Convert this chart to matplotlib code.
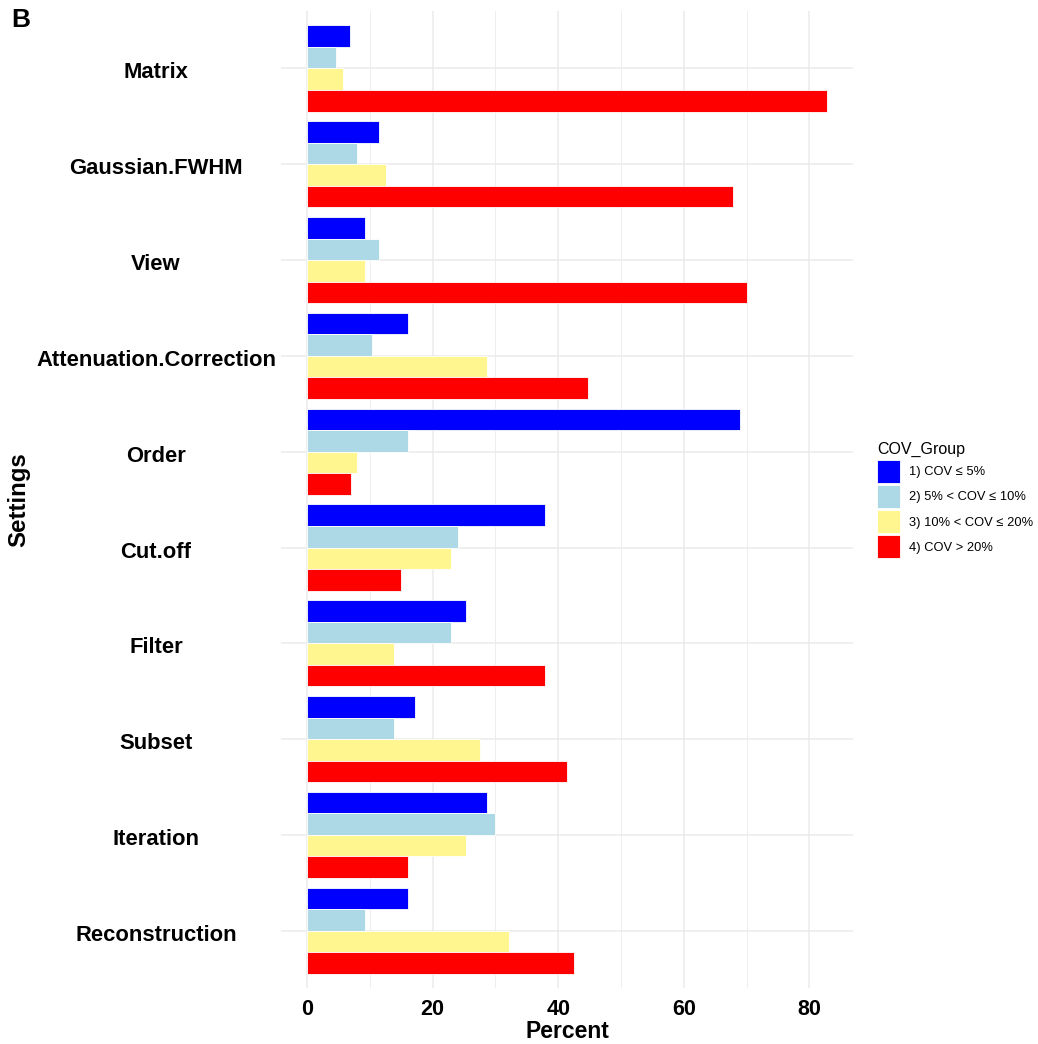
import matplotlib
matplotlib.use("Agg")
import matplotlib.pyplot as plt
import matplotlib.transforms as mtransforms
from matplotlib.patches import Patch
import numpy as np

plt.rcParams["font.family"] = ["Liberation Sans", "DejaVu Sans"]

settings = ["Matrix", "Gaussian.FWHM", "View", "Attenuation.Correction", "Order",
            "Cut.off", "Filter", "Subset", "Iteration", "Reconstruction"]
groups = ["1) COV \u2264 5%", "2) 5% < COV \u2264 10%", "3) 10% < COV \u2264 20%", "4) COV > 20%"]
colors = ["#0000FF", "#ADD8E6", "#FFF68F", "#FF0000"]

# percent of cases per setting, one list per COV group
cov_le5 = [6.9, 11.5, 9.2, 16.1, 69.0, 37.9, 25.3, 17.2, 28.7, 16.1]
cov_5_10 = [4.6, 8.0, 11.5, 10.3, 16.1, 24.1, 23.0, 13.8, 29.9, 9.2]
cov_10_20 = [5.7, 12.6, 9.2, 28.7, 8.0, 23.0, 13.8, 27.6, 25.3, 32.2]
cov_gt20 = [82.8, 67.8, 70.1, 44.8, 7.0, 14.9, 37.9, 41.4, 16.1, 42.5]
series = [cov_le5, cov_5_10, cov_10_20, cov_gt20]

fig = plt.figure(figsize=(10.38, 10.44), dpi=100)
ax = fig.add_axes([281 / 1038, 1 - 988.2 / 1044, 572 / 1038, 977.2 / 1044])

n = len(settings)
pos = np.arange(n)[::-1]  # first setting at the top
width = 0.9 / 4
for i, (vals, col) in enumerate(zip(series, colors)):
    offs = (1.5 - i) * width
    ax.barh(pos + offs, vals, height=width, color=col, edgecolor="white",
            linewidth=0.6, zorder=3)

xmax = max(max(s) for s in series)
ax.set_xlim(-0.05 * xmax, 1.05 * xmax)
ax.set_ylim(-0.6, n - 1 + 0.6)
ax.set_yticks(pos)
ax.set_yticklabels(settings, fontsize=15.8, fontweight="bold")
ax.set_xticks([0, 20, 40, 60, 80])
ax.set_xticks([10, 30, 50, 70], minor=True)
ax.tick_params(axis="x", labelsize=15.5, length=0, pad=8, which="both")
for lab in ax.get_xticklabels():
    lab.set_fontweight("bold")

# centred category labels, nudged slightly below the gridline
ax.tick_params(axis="y", length=0, pad=90)
shift = mtransforms.ScaledTranslation(0, -2 / 100, fig.dpi_scale_trans)
for lab in ax.get_yticklabels():
    lab.set_horizontalalignment("center")
    lab.set_transform(lab.get_transform() + shift)

ax.grid(True, which="major", color="#EBEBEB", linewidth=1.1, zorder=0)
ax.grid(True, which="minor", axis="x", color="#EBEBEB", linewidth=0.6, zorder=0)
for sp in ax.spines.values():
    sp.set_visible(False)

ax.set_xlabel("Percent", fontsize=16.5, fontweight="bold", labelpad=0)
ax.set_ylabel("Settings", fontsize=17.3, fontweight="bold", labelpad=4)

handles = [Patch(facecolor=c, edgecolor="white", linewidth=0.6) for c in colors]
leg = fig.legend(handles, groups, title="COV_Group", loc="upper left",
                 bbox_to_anchor=(876 / 1038, 1 - 441 / 1044), frameon=False,
                 fontsize=9.3, title_fontsize=11.5, handlelength=1.78, handleheight=2.37,
                 labelspacing=0.17, handletextpad=0.7, borderaxespad=0,
                 borderpad=0.1)
leg._legend_box.align = "left"

fig.text(11 / 1038, 1 - 8 / 1044, "B", fontsize=19, fontweight="bold", va="top", ha="left")

fig.savefig("out.png", dpi=100)
